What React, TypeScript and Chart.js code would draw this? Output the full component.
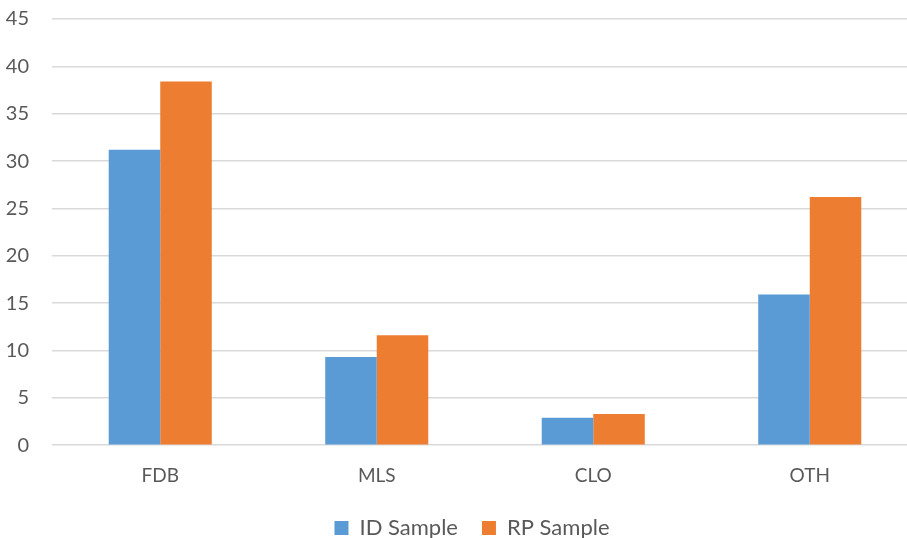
import React, { useEffect, useRef } from "react";
import { Chart, registerables } from "chart.js";

Chart.register(...registerables);

const categories = ["FDB", "MLS", "CLO", "OTH"];
const idSample = [31.2, 9.3, 2.9, 15.9];
const rpSample = [38.4, 11.6, 3.3, 26.2];
const seriesNames = ["ID Sample", "RP Sample"];

const W = 918;
const H = 549;

const legendShift = {
  id: "legendShift",
  afterLayout(chart: any) {
    const l = chart.legend;
    if (l) {
      l.left += 13;
      l.right += 13;
    }
  },
};

export default function App() {
  const ref = useRef<HTMLCanvasElement | null>(null);
  useEffect(() => {
    if (!ref.current) return;
    const font = "Lato, 'Open Sans', sans-serif";
    const chart = new Chart(ref.current, {
      type: "bar",
      data: {
        labels: categories,
        datasets: [
          { label: seriesNames[0], data: idSample, backgroundColor: "#5B9BD5", categoryPercentage: 0.476, barPercentage: 1 },
          { label: seriesNames[1], data: rpSample, backgroundColor: "#ED7D31", categoryPercentage: 0.476, barPercentage: 1 },
        ],
      },
      plugins: [legendShift],
      options: {
        animation: false,
        responsive: false,
        layout: { padding: { top: 19, left: 0, right: 0, bottom: 0 } },
        plugins: {
          tooltip: { enabled: false },
          legend: {
            position: "bottom",
            labels: {
              color: "#595959",
              font: { family: font, size: 22 },
              boxWidth: 14,
              boxHeight: 14,
              padding: 24,
            },
          },
        },
        scales: {
          x: {
            grid: { display: false },
            border: { display: false },
            ticks: { color: "#595959", font: { family: font, size: 19 }, padding: 11 },
            afterFit: (s: any) => { s.height = s.height - 5; },
          },
          y: {
            min: 0,
            max: 45,
            ticks: { stepSize: 5, color: "#595959", font: { family: font, size: 20 }, padding: 23 },
            grid: { color: "#D9D9D9", lineWidth: 1.5, drawTicks: false },
            border: { display: false },
            afterFit: (s: any) => {
              s.width = 52;
              s.paddingTop = 0;
              s.paddingBottom = 0;
            },
          },
        },
      },
    });
    return () => chart.destroy();
  }, []);
  return (
    <div style={{ position: "fixed", left: 0, top: 0, width: 907, height: 538, overflow: "hidden", background: "#fff" }}>
      <canvas ref={ref} width={W} height={H} style={{ width: W, height: H, display: "block" }} />
    </div>
  );
}
